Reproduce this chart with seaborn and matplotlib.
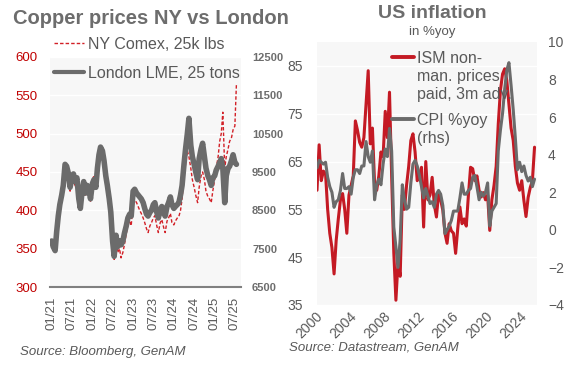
import pandas as pd
import seaborn as sns
import matplotlib.pyplot as plt
import matplotlib.dates as mdates
from matplotlib.lines import Line2D
from matplotlib.transforms import ScaledTranslation

copper_dates = pd.date_range('2021-01-01', '2025-07-15', freq='SMS')
ny_comex = [355, 350, 345, 378, 395, 410, 418, 428, 455, 455,
            445, 425, 438, 440, 430, 437, 410, 405, 425, 440,
            420, 430, 425, 412, 440, 445, 430, 450, 465, 472,
            475, 460, 440, 425, 410, 395, 355, 336, 360, 345,
            350, 338, 345, 355, 370, 380, 385, 380, 412, 414,
            410, 405, 400, 396, 390, 384, 376, 371, 380, 384,
            390, 393, 380, 371, 384, 388, 378, 371, 386, 390,
            396, 384, 381, 386, 390, 392, 400, 415, 445, 460,
            478, 470, 455, 440, 430, 420, 410, 430, 445, 450,
            440, 425, 418, 415, 410, 425, 440, 455, 470, 490,
            500, 528, 455, 470, 480, 490, 495, 505, 510, 565]
london_lme = [7700, 7550, 7450, 7950, 8350, 8650, 8900, 9150, 9700, 9650,
              9450, 9100, 9350, 9450, 9250, 9350, 8800, 8550, 9000, 9250,
              8950, 9150, 9050, 8800, 9200, 9300, 9100, 9600, 9950, 10150,
              10050, 9800, 9400, 9150, 8800, 8450, 7700, 7300, 7850, 7550,
              7700, 7600, 7700, 7900, 8100, 8300, 8400, 8350, 9000, 9050,
              8950, 8900, 8850, 8800, 8700, 8550, 8400, 8350, 8450, 8500,
              8650, 8700, 8450, 8300, 8500, 8600, 8450, 8350, 8600, 8700,
              8850, 8650, 8550, 8600, 8650, 8700, 8900, 9150, 9700, 10100,
              10500, 10900, 10200, 9900, 9700, 9500, 9300, 9850, 10100, 10250,
              9900, 9600, 9400, 9300, 9150, 9350, 9400, 9550, 9650, 9750,
              9850, 9600, 8700, 9400, 9600, 9650, 9800, 9950, 9750, 9700]

# US inflation, quarterly readings
infl_dates = pd.date_range('2000-01-01', periods=103, freq='QS')
ism_prices = [59, 68.5, 61, 63, 62.5, 55, 50, 47, 41.5, 48.5,
              53, 57, 58.3, 55, 50, 58, 60, 62, 73.5, 71.5,
              69, 68, 70, 77, 84, 68.7, 72, 60.4, 59, 62,
              67, 66, 75.5, 70, 79.5, 62, 46, 36, 44, 41,
              58, 55, 60, 64, 69.4, 70.8, 67, 61, 62, 63.8,
              51.3, 65, 57, 58, 61.7, 56, 53.4, 58.3, 57, 54.8,
              50, 47.9, 52, 50.5, 50, 45.8, 51, 55.5, 52, 53,
              51.5, 58, 63.8, 63.5, 61, 62, 59, 57.6, 58.5, 57,
              58, 50.6, 57, 60, 64, 72.9, 79.8, 83.3, 84.4, 82,
              77, 72, 69.4, 64, 60.5, 59, 61, 56.9, 53.5, 57.5,
              59.6, 61, 68]
cpi_yoy = [3.3, 3.7, 3.6, 3.5, 3.6, 2.8, 2.3, 2.0, 1.2, 1.5,
           1.6, 2.1, 3.0, 2.2, 2.2, 2.3, 1.9, 2.8, 3.2, 3.2,
           3.0, 3.4, 3.4, 4.7, 3.9, 3.6, 4.2, 1.6, 2.4, 2.7,
           2.4, 3.5, 4.3, 3.9, 5.4, 4.2, 0.15, -0.9, -2.0, -0.5,
           2.4, 1.6, 1.1, 1.2, 2.5, 3.5, 3.7, 3.4, 2.9, 2.3,
           1.7, 2.2, 1.8, 1.4, 1.5, 1.2, 1.9, 2.1, 1.9, 1.3,
           -0.2, 0.0, 0.2, 0.5, 1.0, 1.0, 1.0, 1.7, 2.5, 1.9,
           1.9, 2.1, 2.2, 2.8, 2.9, 2.3, 1.6, 2.0, 1.8, 2.0,
           2.5, 0.2, 1.0, 1.2, 1.4, 4.2, 5.3, 6.2, 7.5, 8.5,
           8.9, 7.7, 6.4, 4.9, 3.2, 3.6, 3.1, 3.4, 2.9, 2.6,
           2.8, 2.3, 2.7]

RED = '#c00000'
LINE_RED = '#c41a24'
GREY = '#6b6b6b'
TXT = '#595959'
BG = '#f7f7f7'

sns.set_theme(style='white')
plt.rcParams['font.family'] = ['Liberation Sans', 'DejaVu Sans']

fig = plt.figure(figsize=(5.82, 3.72), dpi=100)
W, H = 582, 372

# ---------------- left: copper ----------------
ax1 = fig.add_axes([50 / W, 85 / H, 191 / W, 230 / H])
ax1.set_facecolor(BG)
sns.lineplot(x=copper_dates, y=ny_comex, ax=ax1, color='#d21f26',
             linewidth=1.0, linestyle=(0, (2.5, 1.5)))
ax1.set_ylim(300, 600)
ax1.set_yticks(range(300, 601, 50))
ax1.set_xlim(pd.Timestamp('2020-12-17'), pd.Timestamp('2025-08-25'))
ax1.xaxis.set_major_locator(mdates.MonthLocator(bymonth=[1, 7]))
ax1.xaxis.set_major_formatter(mdates.DateFormatter('%m/%y'))
ax1.tick_params(axis='y', colors=RED, labelsize=9.5, length=0, pad=9)
ax1.tick_params(axis='x', colors=TXT, labelsize=9.5, length=0, pad=7,
                labelrotation=90)
ax1.grid(axis='y', color='white', linewidth=1)
ax1.set_axisbelow(True)
for s in ['top', 'left', 'right']:
    ax1.spines[s].set_visible(False)
ax1.spines['bottom'].set_color('#808080')
ax1.spines['bottom'].set_linewidth(1.5)
ax1.set_xlabel('')
ax1.set_ylabel('')

ax1b = ax1.twinx()
sns.lineplot(x=copper_dates, y=london_lme, ax=ax1b, color=GREY, linewidth=4.0)
ax1b.set_ylim(6500, 12500)
ax1b.set_yticks(range(6500, 12501, 1000))
ax1b.tick_params(axis='y', colors='#6d6d6d', labelsize=8, length=0, pad=8)
for lab in ax1b.get_yticklabels():
    lab.set_fontweight('bold')
for s in ax1b.spines.values():
    s.set_visible(False)
ax1b.set_ylabel('')

lme_handle = Line2D([], [], color=GREY, linewidth=3.0)
leg1 = ax1b.legend([ax1.lines[0], lme_handle],
                   ['NY Comex, 25k lbs', 'London LME, 25 tons'],
                   loc='upper left', bbox_to_anchor=(54 / W, 1 - 37 / H),
                   bbox_transform=fig.transFigure, frameon=False,
                   fontsize=11.5, handlelength=1.9, handletextpad=0.2,
                   labelspacing=0.85, borderpad=0, borderaxespad=0)
for t in leg1.get_texts():
    t.set_color(TXT)

fig.text(13 / W, 1 - 19 / H, 'Copper prices NY vs London', fontsize=14.5,
         fontweight='bold', color='#6d6d6d', va='center', ha='left')
fig.text(20 / W, 1 - 352 / H, 'Source: Bloomberg, GenAM', fontsize=9.5,
         style='italic', color=TXT, va='center', ha='left')

# ---------------- right: US inflation ----------------
ax2 = fig.add_axes([317 / W, 67 / H, 220 / W, 263 / H])
ax2.set_facecolor(BG)
sns.lineplot(x=infl_dates, y=ism_prices, ax=ax2, color=LINE_RED, linewidth=2.2)
ax2.set_ylim(35, 90)
ax2.set_yticks(range(35, 86, 10))
ax2.set_xlim(pd.Timestamp('2000-01-01'), pd.Timestamp('2025-10-15'))
ax2.xaxis.set_major_locator(mdates.YearLocator(4))
ax2.xaxis.set_major_formatter(mdates.DateFormatter('%Y'))
ax2.tick_params(axis='y', colors=TXT, labelsize=10, length=0, pad=10)
ax2.tick_params(axis='x', colors=TXT, labelsize=10, length=0, pad=3)
for lab in ax2.get_xticklabels():
    lab.set_rotation(45)
    lab.set_ha('right')
    lab.set_transform(lab.get_transform() + ScaledTranslation(0.08, 0, fig.dpi_scale_trans))
ax2.grid(axis='y', color='white', linewidth=1)
ax2.set_axisbelow(True)
for s in ax2.spines.values():
    s.set_visible(False)
ax2.set_xlabel('')
ax2.set_ylabel('')

ax2b = ax2.twinx()
sns.lineplot(x=infl_dates, y=cpi_yoy, ax=ax2b, color=GREY, linewidth=2.2)
ax2b.set_ylim(-4, 10)
ax2b.set_yticks(range(-4, 11, 2))
ax2b.tick_params(axis='y', colors=TXT, labelsize=10, length=0, pad=8)
for s in ax2b.spines.values():
    s.set_visible(False)
ax2b.set_ylabel('')

blank = Line2D([], [], color='none')
ism_handle = Line2D([], [], color=LINE_RED, linewidth=2.8)
cpi_handle = Line2D([], [], color=GREY, linewidth=2.8)
leg_a = ax2b.legend([ism_handle, blank, blank],
                    ['ISM non-', 'man. prices', 'paid, 3m adv.'],
                    loc='upper left', bbox_to_anchor=(392 / W, 1 - 51 / H),
                    bbox_transform=fig.transFigure, frameon=False,
                    fontsize=11.5, handlelength=1.4, handletextpad=0.17,
                    labelspacing=0.2, borderpad=0, borderaxespad=0)
ax2b.add_artist(leg_a)
leg_b = ax2b.legend([cpi_handle, blank], ['CPI %yoy', '(rhs)'],
                    loc='upper left', bbox_to_anchor=(392 / W, 1 - 113 / H),
                    bbox_transform=fig.transFigure, frameon=False,
                    fontsize=11.5, handlelength=1.4, handletextpad=0.17,
                    labelspacing=0.2, borderpad=0, borderaxespad=0)
for lg in (leg_a, leg_b):
    for t in lg.get_texts():
        t.set_color(TXT)

fig.text(432.5 / W, 1 - 13 / H, 'US inflation', fontsize=14,
         fontweight='bold', color='#6d6d6d', va='center', ha='center')
fig.text(432 / W, 1 - 32 / H, 'in %yoy', fontsize=9.5, color=TXT,
         va='center', ha='center')
fig.text(289 / W, 1 - 348 / H, 'Source: Datastream, GenAM', fontsize=9.5,
         style='italic', color=TXT, va='center', ha='left')

fig.savefig('out.png', dpi=100)
